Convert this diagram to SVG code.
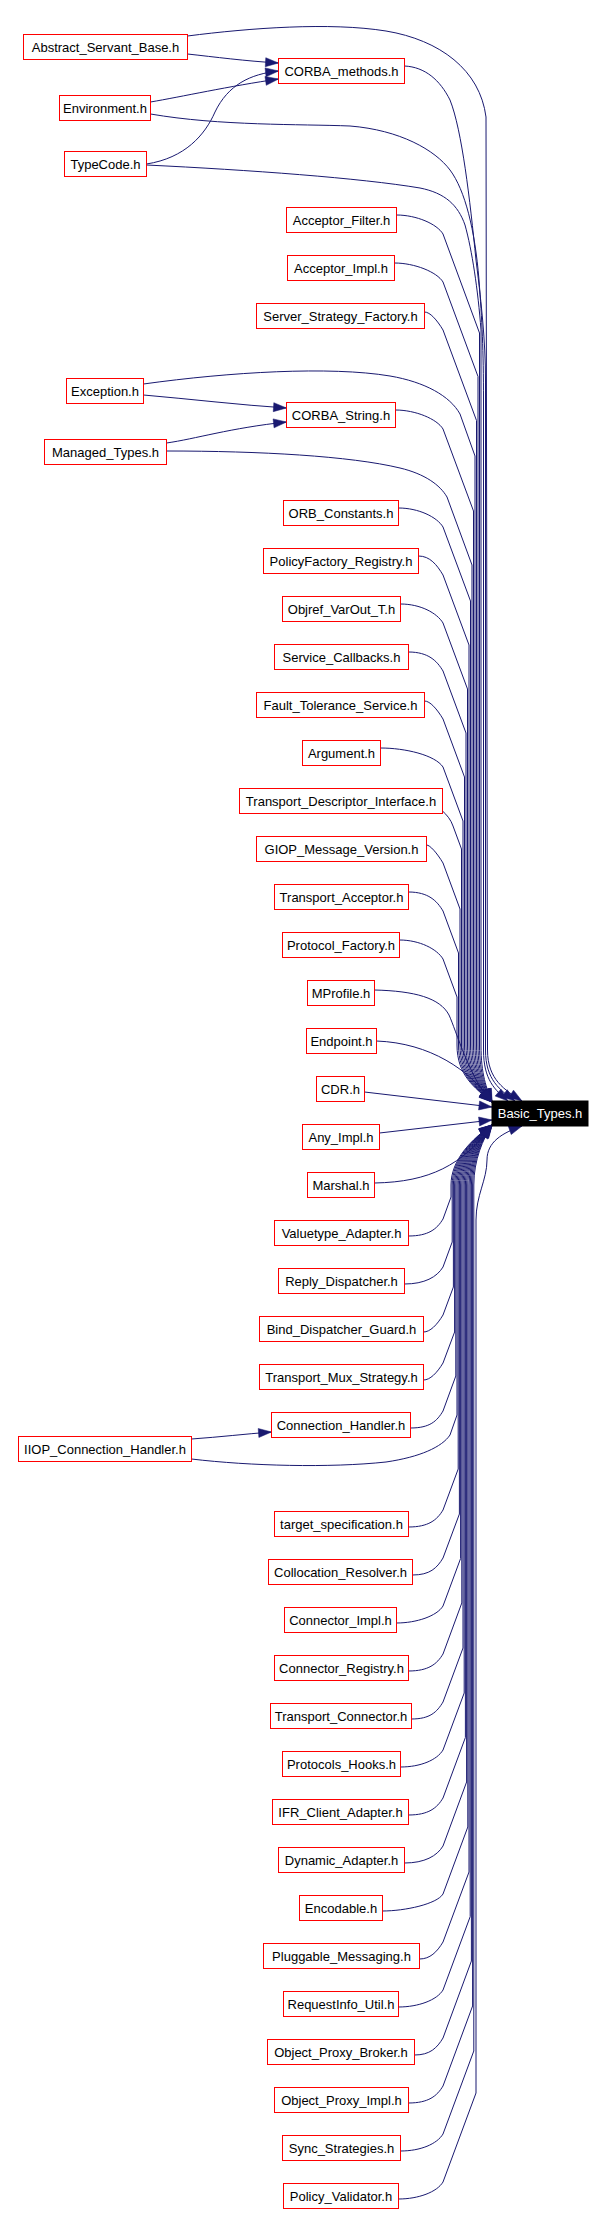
<svg xmlns="http://www.w3.org/2000/svg" width="606" height="2214" viewBox="0 0 606 2214">
<style>
.n rect{fill:#fff;stroke:#ff0000;stroke-width:1}
text{font-family:"Liberation Sans",Arial,sans-serif;font-size:13px;text-anchor:middle;fill:#000}
.r rect{fill:#000;stroke:#000;stroke-width:1}
.r text{fill:#fff}
#edges path{fill:none;stroke:#191970;stroke-width:1;marker-end:url(#a)}
</style>
<defs>
<marker id="a" markerUnits="userSpaceOnUse" markerWidth="13" markerHeight="9" refX="13" refY="4.5" orient="auto" overflow="visible"><path d="M0,0 L13,4.5 L0,9 z" fill="#191970" stroke="#191970" stroke-width="0.5"/></marker>
</defs>
<rect width="606" height="2214" fill="#fff"/>
<g id="edges">
<path d="M187.5,54 C215,57 245,61 278.5,63"/>
<path d="M150.5,102 C180,97 230,86 278.5,79"/>
<path d="M146.5,164 C185,158 205,135 215,112 C228,85 250,74 278.5,71"/>
<path d="M143.5,395 C190,399 240,405 286.5,408"/>
<path d="M166.5,443 C195,439 230,428 286.5,422"/>
<path d="M191.5,1439 C220,1437 245,1434 271.5,1432"/>
<path d="M187.5,36 C250,28 330,22 386,31 C440,40 480,70 486,117 L487.5,1050 C487.5,1080 505,1090 522,1101"/>
<path d="M404.5,66 C425,67 440,80 450,100 C462,130 470,200 476,260 C481,300 485.5,340 485.5,380 L485.5,1050 C485.5,1080 500,1090 515,1101"/>
<path d="M150.5,114 C220,126 300,124 350,126 C400,130 435,150 450,170 C465,190 475,230 479,280 C482,320 483.5,350 483.5,400 L483.5,1050 C483.5,1080 495,1090 508,1101"/>
<path d="M146.5,165 C250,170 360,178 420,188 C445,193 458,205 465,225 C472,250 478,290 481,330 L481,1045 C481,1075 486.5,1088 492,1102"/>
<path d="M396.5,215 C416.5,215 437,224 443,234 L479.5,333 L479.5,1045 C479.5,1075 485.8,1088 492,1102"/>
<path d="M394.5,263 C414.5,263 437,272 443,282 L478,376.5 L478,1045 C478,1075 485,1088 492,1102"/>
<path d="M424.5,312 C430,312 437,320 443,330 L476.5,420.5 L476.5,1045 C476.5,1075 484.3,1088 492,1102"/>
<path d="M143.5,384 C230,372 330,366 390,376 C425,382 450,396 460,414 L475,456 L475,1045 C475,1075 483.5,1088 492,1102"/>
<path d="M395.5,410 C415.5,410 437,419 443,429 L473.5,511 L473.5,1045 C473.5,1075 482.8,1088 492,1102"/>
<path d="M166.5,451 C260,451 350,456 400,468 C425,474 440,485 447,497 L472,565 L472,1045 C472,1075 482,1088 492,1102"/>
<path d="M398.5,508 C418.5,508 437,517 443,527 L470.5,601 L470.5,1045 C470.5,1075 481.3,1088 492,1102"/>
<path d="M418.5,556 C430,556 437,565 443,575 L469,645 L469,1045 C469,1075 480.5,1088 492,1102"/>
<path d="M400.5,604 C420.5,604 437,613 443,623 L467.5,689 L467.5,1045 C467.5,1075 479.8,1088 492,1102"/>
<path d="M408.5,652 C428.5,652 437,661 443,671 L466,733 L466,1045 C466,1075 479,1088 492,1102"/>
<path d="M424.5,701 C430,701 437,709 443,719 L464.5,777 L464.5,1045 C464.5,1075 478.3,1088 492,1102"/>
<path d="M380.5,748 C405,748 435,755 443,767 L463,821 L463,1045 C463,1075 477.5,1088 492,1102"/>
<path d="M442.5,811 C447,815 451,820 453,826 L461.5,849 L461.5,1045 C461.5,1075 476.8,1088 492,1102"/>
<path d="M426.5,845 C430,845 437,853 443,863 L460,909 L460,1045 C460,1075 476,1088 492,1102"/>
<path d="M408.5,892 C428.5,892 437,901 443,911 L458.5,953 L458.5,1045 C458.5,1075 475.3,1088 492,1102"/>
<path d="M399.5,940 C419.5,940 437,949 443,959 L457,997 L457,1045 C457,1075 474.5,1088 492,1102"/>
<path d="M374.5,990 C415,991 440,998 449,1015 C456,1030 470,1080 492,1102"/>
<path d="M376.5,1041 C430,1043 470,1070 492,1102"/>
<path d="M364.5,1092 L492,1107"/>
<path d="M379.5,1133 L492,1120"/>
<path d="M374.5,1183 C430,1182 462,1165 492,1126"/>
<path d="M408.5,1236 C428.5,1236 437,1229 443,1219 L451,1197 L451,1185 C451,1160 471.5,1139 492,1125"/>
<path d="M404.5,1284 C424.5,1284 437,1277 443,1267 L452.2,1242 L452.2,1185 C452.2,1160 472.1,1139 492,1125"/>
<path d="M423.5,1332 C430,1332 437,1325 443,1315 L453.4,1287 L453.4,1185 C453.4,1160 472.7,1139 492,1125"/>
<path d="M423.5,1380 C430,1380 437,1373 443,1363 L454.6,1332 L454.6,1185 C454.6,1160 473.3,1139 492,1125"/>
<path d="M410.5,1428 C430,1428 437,1421 443,1411 L455.8,1376 L455.8,1185 C455.8,1160 473.9,1139 492,1125"/>
<path d="M191.5,1459 C250,1466 330,1468 386,1462 C420,1457 442,1447 450,1435 L457,1415 L457,1185 C457,1160 474.5,1139 492,1125"/>
<path d="M408.5,1527 C428.5,1527 437,1520 443,1510 L458.2,1469 L458.2,1185 C458.2,1160 475.1,1139 492,1125"/>
<path d="M412.5,1575 C430,1575 437,1568 443,1558 L459.4,1514 L459.4,1185 C459.4,1160 475.7,1139 492,1125"/>
<path d="M396.5,1623 C416.5,1623 437,1616 443,1606 L460.6,1558.5 L460.6,1185 C460.6,1160 476.3,1139 492,1125"/>
<path d="M408.5,1671 C428.5,1671 437,1664 443,1654 L461.8,1603 L461.8,1185 C461.8,1160 476.9,1139 492,1125"/>
<path d="M411.5,1719 C430,1719 437,1712 443,1702 L463,1648 L463,1185 C463,1160 477.5,1139 492,1125"/>
<path d="M400.5,1767 C420.5,1767 437,1760 443,1750 L464.2,1693 L464.2,1185 C464.2,1160 478.1,1139 492,1125"/>
<path d="M408.5,1815 C428.5,1815 437,1808 443,1798 L465.4,1737.5 L465.4,1185 C465.4,1160 478.7,1139 492,1125"/>
<path d="M404.5,1863 C424.5,1863 437,1856 443,1846 L466.6,1782 L466.6,1185 C466.6,1160 479.3,1139 492,1125"/>
<path d="M382.5,1911 C405,1911 437,1904 443,1894 L467.8,1827 L467.8,1185 C467.8,1160 479.9,1139 492,1125"/>
<path d="M419.5,1959 C430,1959 437,1952 443,1942 L469,1872 L469,1185 C469,1160 480.5,1139 492,1125"/>
<path d="M398.5,2007 C418.5,2007 437,2000 443,1990 L470.2,1916.6 L470.2,1185 C470.2,1160 481.1,1139 492,1125"/>
<path d="M414.5,2055 C430,2055 437,2048 443,2038 L471.4,1961 L471.4,1185 C471.4,1160 481.7,1139 492,1125"/>
<path d="M408.5,2103 C428.5,2103 437,2096 443,2086 L472.6,2006 L472.6,1185 C472.6,1160 482.3,1139 492,1125"/>
<path d="M400.5,2151 C420.5,2151 437,2144 443,2134 L473.8,2051 L473.8,1185 C473.8,1160 482.9,1139 492,1125"/>
<path d="M398.5,2199 C418.5,2199 437,2192 443,2182 L476,2093 L476,1220 C476,1195 487,1180 487,1160 C487,1142 502,1133 522,1126"/>
</g>
<g id="Basic_Types" class="r"><rect x="492" y="1101" width="96" height="25"/><text x="540" y="1118">Basic_Types.h</text></g>
<g id="Abstract_Servant_Base" class="n"><rect x="23.5" y="34.5" width="164" height="25"/><text x="105.5" y="52">Abstract_Servant_Base.h</text></g>
<g id="CORBA_methods" class="n"><rect x="278.5" y="58.5" width="126" height="25"/><text x="341.5" y="76">CORBA_methods.h</text></g>
<g id="Environment" class="n"><rect x="59.5" y="95.5" width="91" height="25"/><text x="105" y="113">Environment.h</text></g>
<g id="TypeCode" class="n"><rect x="64.5" y="151.5" width="82" height="25"/><text x="105.5" y="169">TypeCode.h</text></g>
<g id="Acceptor_Filter" class="n"><rect x="286.5" y="207.5" width="110" height="25"/><text x="341.5" y="225">Acceptor_Filter.h</text></g>
<g id="Acceptor_Impl" class="n"><rect x="287.5" y="255.5" width="107" height="25"/><text x="341" y="273">Acceptor_Impl.h</text></g>
<g id="Server_Strategy_Factory" class="n"><rect x="256.5" y="303.5" width="168" height="25"/><text x="340.5" y="321">Server_Strategy_Factory.h</text></g>
<g id="Exception" class="n"><rect x="66.5" y="378.5" width="77" height="25"/><text x="105" y="396">Exception.h</text></g>
<g id="CORBA_String" class="n"><rect x="286.5" y="402.5" width="109" height="25"/><text x="341" y="420">CORBA_String.h</text></g>
<g id="Managed_Types" class="n"><rect x="44.5" y="439.5" width="122" height="25"/><text x="105.5" y="457">Managed_Types.h</text></g>
<g id="ORB_Constants" class="n"><rect x="283.5" y="500.5" width="115" height="25"/><text x="341" y="518">ORB_Constants.h</text></g>
<g id="PolicyFactory_Registry" class="n"><rect x="263.5" y="548.5" width="155" height="25"/><text x="341" y="566">PolicyFactory_Registry.h</text></g>
<g id="Objref_VarOut_T" class="n"><rect x="282.5" y="596.5" width="118" height="25"/><text x="341.5" y="614">Objref_VarOut_T.h</text></g>
<g id="Service_Callbacks" class="n"><rect x="274.5" y="644.5" width="134" height="25"/><text x="341.5" y="662">Service_Callbacks.h</text></g>
<g id="Fault_Tolerance_Service" class="n"><rect x="256.5" y="692.5" width="168" height="25"/><text x="340.5" y="710">Fault_Tolerance_Service.h</text></g>
<g id="Argument" class="n"><rect x="302.5" y="740.5" width="78" height="25"/><text x="341.5" y="758">Argument.h</text></g>
<g id="Transport_Descriptor_Interface" class="n"><rect x="239.5" y="788.5" width="203" height="25"/><text x="341" y="806">Transport_Descriptor_Interface.h</text></g>
<g id="GIOP_Message_Version" class="n"><rect x="256.5" y="836.5" width="170" height="25"/><text x="341.5" y="854">GIOP_Message_Version.h</text></g>
<g id="Transport_Acceptor" class="n"><rect x="274.5" y="884.5" width="134" height="25"/><text x="341.5" y="902">Transport_Acceptor.h</text></g>
<g id="Protocol_Factory" class="n"><rect x="282.5" y="932.5" width="117" height="25"/><text x="341" y="950">Protocol_Factory.h</text></g>
<g id="MProfile" class="n"><rect x="307.5" y="980.5" width="67" height="25"/><text x="341" y="998">MProfile.h</text></g>
<g id="Endpoint" class="n"><rect x="306.5" y="1028.5" width="70" height="25"/><text x="341.5" y="1046">Endpoint.h</text></g>
<g id="CDR" class="n"><rect x="316.5" y="1076.5" width="48" height="25"/><text x="340.5" y="1094">CDR.h</text></g>
<g id="Any_Impl" class="n"><rect x="302.5" y="1124.5" width="77" height="25"/><text x="341" y="1142">Any_Impl.h</text></g>
<g id="Marshal" class="n"><rect x="307.5" y="1172.5" width="67" height="25"/><text x="341" y="1190">Marshal.h</text></g>
<g id="Valuetype_Adapter" class="n"><rect x="274.5" y="1220.5" width="134" height="25"/><text x="341.5" y="1238">Valuetype_Adapter.h</text></g>
<g id="Reply_Dispatcher" class="n"><rect x="278.5" y="1268.5" width="126" height="25"/><text x="341.5" y="1286">Reply_Dispatcher.h</text></g>
<g id="Bind_Dispatcher_Guard" class="n"><rect x="259.5" y="1316.5" width="164" height="25"/><text x="341.5" y="1334">Bind_Dispatcher_Guard.h</text></g>
<g id="Transport_Mux_Strategy" class="n"><rect x="259.5" y="1364.5" width="164" height="25"/><text x="341.5" y="1382">Transport_Mux_Strategy.h</text></g>
<g id="Connection_Handler" class="n"><rect x="271.5" y="1412.5" width="139" height="25"/><text x="341" y="1430">Connection_Handler.h</text></g>
<g id="IIOP_Connection_Handler" class="n"><rect x="18.5" y="1436.5" width="173" height="25"/><text x="105" y="1454">IIOP_Connection_Handler.h</text></g>
<g id="target_specification" class="n"><rect x="274.5" y="1511.5" width="134" height="25"/><text x="341.5" y="1529">target_specification.h</text></g>
<g id="Collocation_Resolver" class="n"><rect x="268.5" y="1559.5" width="144" height="25"/><text x="340.5" y="1577">Collocation_Resolver.h</text></g>
<g id="Connector_Impl" class="n"><rect x="284.5" y="1607.5" width="112" height="25"/><text x="340.5" y="1625">Connector_Impl.h</text></g>
<g id="Connector_Registry" class="n"><rect x="274.5" y="1655.5" width="134" height="25"/><text x="341.5" y="1673">Connector_Registry.h</text></g>
<g id="Transport_Connector" class="n"><rect x="270.5" y="1703.5" width="141" height="25"/><text x="341" y="1721">Transport_Connector.h</text></g>
<g id="Protocols_Hooks" class="n"><rect x="282.5" y="1751.5" width="118" height="25"/><text x="341.5" y="1769">Protocols_Hooks.h</text></g>
<g id="IFR_Client_Adapter" class="n"><rect x="272.5" y="1799.5" width="136" height="25"/><text x="340.5" y="1817">IFR_Client_Adapter.h</text></g>
<g id="Dynamic_Adapter" class="n"><rect x="278.5" y="1847.5" width="126" height="25"/><text x="341.5" y="1865">Dynamic_Adapter.h</text></g>
<g id="Encodable" class="n"><rect x="299.5" y="1895.5" width="83" height="25"/><text x="341" y="1913">Encodable.h</text></g>
<g id="Pluggable_Messaging" class="n"><rect x="263.5" y="1943.5" width="156" height="25"/><text x="341.5" y="1961">Pluggable_Messaging.h</text></g>
<g id="RequestInfo_Util" class="n"><rect x="283.5" y="1991.5" width="115" height="25"/><text x="341" y="2009">RequestInfo_Util.h</text></g>
<g id="Object_Proxy_Broker" class="n"><rect x="267.5" y="2039.5" width="147" height="25"/><text x="341" y="2057">Object_Proxy_Broker.h</text></g>
<g id="Object_Proxy_Impl" class="n"><rect x="274.5" y="2087.5" width="134" height="25"/><text x="341.5" y="2105">Object_Proxy_Impl.h</text></g>
<g id="Sync_Strategies" class="n"><rect x="282.5" y="2135.5" width="118" height="25"/><text x="341.5" y="2153">Sync_Strategies.h</text></g>
<g id="Policy_Validator" class="n"><rect x="283.5" y="2183.5" width="115" height="25"/><text x="341" y="2201">Policy_Validator.h</text></g>
</svg>
